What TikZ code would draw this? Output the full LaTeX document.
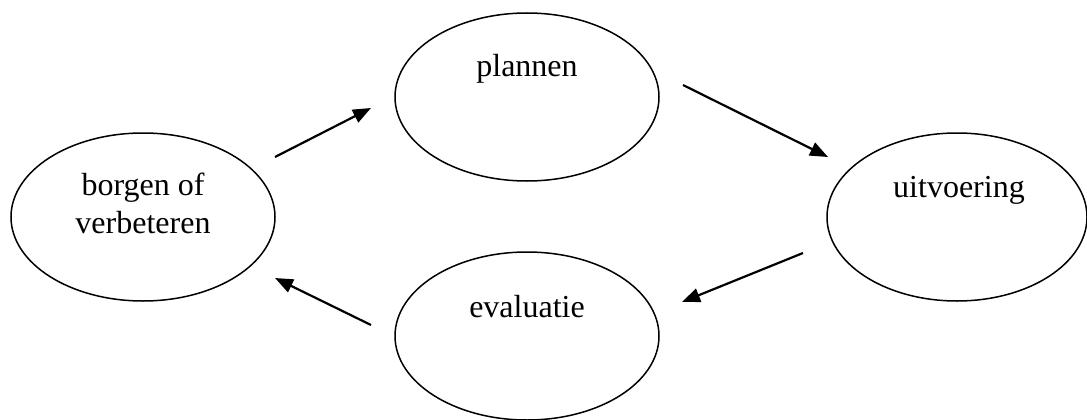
\documentclass[tikz,border=0pt]{standalone}
\usepackage{fontspec}
\setmainfont{Liberation Serif}
\usetikzlibrary{shapes.geometric,arrows.meta}
\begin{document}
\begin{tikzpicture}[x=1pt,y=-1pt,
  ell/.style={draw,ellipse,line width=1.5pt,inner sep=0pt,minimum width=264pt,minimum height=168pt},
  txt/.style={anchor=base,inner sep=0pt,font=\fontsize{32}{38}\selectfont},
  arr/.style={line width=2.2pt,-{Triangle[length=18pt,width=14pt]}}]
\useasboundingbox (0,0) rectangle (1087,420);
\node[ell] (borg) at (143,217) {};
\node[ell] (plan) at (527,97) {};
\node[ell,minimum width=260pt] (uitv) at (957,217) {};
\node[ell] (eval) at (527,336) {};
\node[txt] (tborg1) at (143,195) {borgen of};
\node[txt] (tborg2) at (143,233) {verbeteren};
\node[txt] (tplan) at (527,77) {plannen};
\node[txt] (tuitv) at (959,197) {uitvoering};
\node[txt] (teval) at (527,317) {evaluatie};
\coordinate (a1s) at (275,157); \coordinate (a1e) at (371,108);
\coordinate (a2s) at (683,85); \coordinate (a2e) at (828,157);
\coordinate (a3s) at (803,253); \coordinate (a3e) at (682,302);
\coordinate (a4s) at (371,325); \coordinate (a4e) at (275,278);
\draw[arr] (a1s) -- (a1e);
\draw[arr] (a2s) -- (a2e);
\draw[arr] (a3s) -- (a3e);
\draw[arr] (a4s) -- (a4e);
\end{tikzpicture}
\end{document}
